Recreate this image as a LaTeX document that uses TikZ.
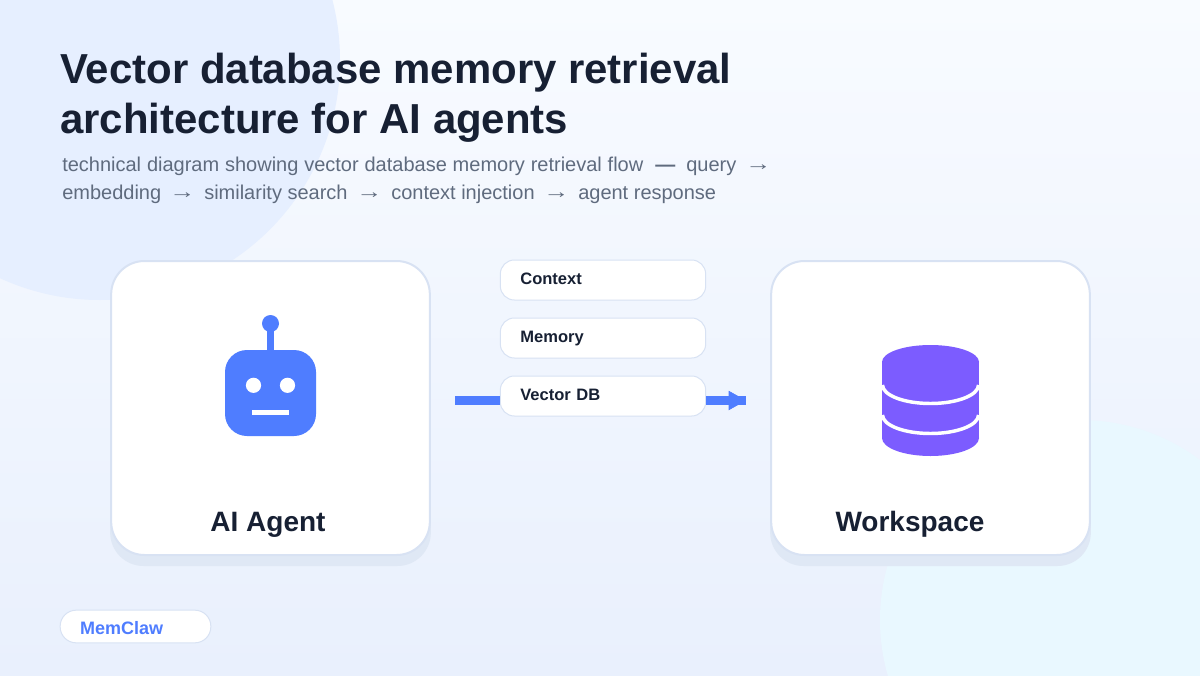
\documentclass[tikz,border=0pt]{standalone}
\usepackage{graphicx}
\usepackage{fontspec}
\setmainfont{Liberation Sans}
\usetikzlibrary{arrows.meta}
\definecolor{inkdark}{HTML}{172033}
\definecolor{inkgrey}{HTML}{5F6B7E}
\definecolor{accent}{HTML}{4F7DFF}
\definecolor{violet}{HTML}{7C5CFF}
\definecolor{edge}{HTML}{D8E2F3}
\definecolor{under}{HTML}{DFE8F5}
\definecolor{bgtop}{HTML}{F8FBFF}
\definecolor{bgbot}{HTML}{E9F0FD}
\definecolor{blobA}{HTML}{E6EFFF}
\definecolor{blobB}{HTML}{E9F8FF}
\newcommand{\pxbox}[2]{\makebox[\dimexpr #1*3/4\relax][l]{#2}}
\newcommand{\longarrow}{\raisebox{1.3pt}{\makebox[15pt]{\scalebox{1.3}[1]{→}}}}
\tikzset{
  card/.style={draw=edge,line width=1.5pt,fill=white,rounded corners=25pt,minimum width=239pt,minimum height=220.5pt,inner sep=0pt},
  cardshadow/.style={fill=under,rounded corners=25pt,minimum width=240.5pt,minimum height=222pt,inner sep=0pt},
  chip/.style={draw=edge,line width=0.75pt,fill=white,rounded corners=10.5pt,minimum width=154pt,minimum height=30pt,inner sep=0pt,
    text width=124pt,text height=9pt,text depth=2pt,align=left,font=\bfseries\fontsize{12.4pt}{14pt}\selectfont,text=inkdark},
  pill/.style={draw=edge,line width=0.75pt,fill=white,rounded corners=12pt,minimum width=113pt,minimum height=24.5pt,inner sep=0pt,
    text width=83pt,text height=14.5pt,text depth=1.8pt,align=left,font=\bfseries\fontsize{13.5pt}{14pt}\selectfont,text=accent},
  cardlabel/.style={anchor=base,font=\bfseries\fontsize{21pt}{24pt}\selectfont,text=inkdark,inner sep=0pt},
  flowbar/.style={draw=accent,line width=7pt},
  flowhead/.style={draw=accent,line width=0.5pt,-{Triangle[length=13pt,width=14.5pt,fill=accent]}},
  heading/.style={anchor=north west,inner sep=0pt,align=left,text=inkdark,font=\bfseries\fontsize{31.45pt}{37.5pt}\selectfont},
  subhead/.style={anchor=north west,inner sep=0pt,align=left,text=inkgrey,font=\fontsize{15pt}{21pt}\selectfont},
}
\begin{document}
\begin{tikzpicture}[x=0.75pt,y=-0.75pt]
\useasboundingbox (0,0) rectangle (1200,675);
\clip (0,0) rectangle (1200,675);
\shade[top color=bgtop,bottom color=bgbot] (0,0) rectangle (1200,675);
\fill[blobA] (100,60) circle[radius=240];
\fill[blobB] (1080,620) circle[radius=200];

\node[heading] (title) at (60,53) {Vector database memory retrieval\\architecture for AI agents};
\node[subhead] (sub) at (62,157) {\pxbox{593pt}{\spaceskip=4.38pt technical diagram showing vector database memory retrieval flow}\pxbox{31pt}{\bfseries —}\pxbox{62pt}{query}\longarrow\\\pxbox{110pt}{embedding}\pxbox{32pt}{\longarrow}\pxbox{155pt}{similarity search}\pxbox{32pt}{\longarrow}\pxbox{155pt}{context injection}\pxbox{32pt}{\longarrow}agent response};

\node[cardshadow] at (270.5,418) {};
\node[cardshadow] at (930.5,418) {};
\node[card] (agent) at (270.5,408) {};
\node[card] (work) at (930.5,408) {};
\node[cardlabel] (agentlabel) at (268,531) {AI Agent};
\node[cardlabel] (worklabel) at (910,531) {Workspace};

% robot
\fill[accent] (267,330) rectangle (274,352);
\fill[accent] (270.5,323.5) circle[radius=8.5];
\fill[accent,rounded corners=16.5pt] (225,350) rectangle (316,436);
\fill[white] (253.5,385.3) circle[radius=7.6];
\fill[white] (287.5,385.3) circle[radius=7.6];
\fill[white] (252,410) rectangle (289,415);

% database
\fill[violet] (882,362) rectangle (979,438);
\fill[violet] (930.5,362) ellipse[x radius=48.5,y radius=17];
\fill[violet] (930.5,438) ellipse[x radius=48.5,y radius=18];
\draw[white,line width=2.6pt] (882.5,385) arc[start angle=180,end angle=0,x radius=48,y radius=18.5];
\draw[white,line width=2.6pt] (882.5,415) arc[start angle=180,end angle=0,x radius=48,y radius=18.5];

% chips
\node[chip] (ctx) at (603,280) {Context};
\node[chip] (mem) at (603,338) {Memory};
\node[chip] (vdb) at (603,396) {Vector DB};

% connectors
\coordinate (inend) at (455,400.5);
\coordinate (outend) at (746,400.5);
\draw[flowbar] (inend) -- (vdb.west |- inend);
\draw[flowbar] (vdb.east |- outend) -- (outend);
\draw[flowhead] (vdb.east |- outend) -- (outend);

\node[pill] (brand) at (135.5,626.5) {MemClaw};
\end{tikzpicture}
\end{document}
